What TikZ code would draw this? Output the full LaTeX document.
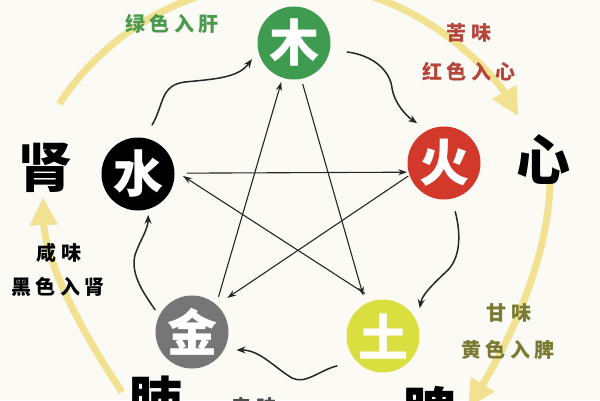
\documentclass[tikz,border=0pt]{standalone}
\usepackage{fontspec}
\newfontfamily\cjk{Noto Sans CJK SC}
\usetikzlibrary{arrows.meta,calc}
\definecolor{bgc}{HTML}{FBFAF5}
\definecolor{wood}{HTML}{3F9B4F}
\definecolor{woodtxt}{HTML}{4A9A4E}
\definecolor{fire}{HTML}{D2392B}
\definecolor{firetxt}{HTML}{B5443A}
\definecolor{metal}{HTML}{767676}
\definecolor{earth}{HTML}{D9DF3E}
\definecolor{earthtxt}{HTML}{7A7A35}
\definecolor{arc}{HTML}{F1E190}
\begin{document}
\begin{tikzpicture}[x=1pt,y=1pt,
  elem/.style={circle, minimum size=73pt, inner sep=0pt, text=white,
    font=\cjk\bfseries\fontsize{50}{50}\selectfont},
  organ/.style={inner sep=0pt, font=\cjk\bfseries\fontsize{54}{54}\selectfont},
  taste/.style={inner sep=0pt, xshift=2pt,
    font=\cjk\bfseries\fontsize{20}{20}\selectfont\addfontfeature{LetterSpace=22}},
  bigarrow/.style={draw=arc, line width=7pt, -{Triangle[length=28pt,width=26pt]}},
  starline/.style={draw=black!85, line width=1.1pt, -{Stealth[length=9pt,width=6pt]}},
  wiggle/.style={draw=black!85, line width=1.5pt, line cap=round, -{Stealth[length=9pt,width=7pt]}}]
\path[use as bounding box] (0,0) rectangle (600,400);
\clip (0,0) rectangle (600,400);
\fill[bgc] (0,0) rectangle (600,400);

% generating-cycle yellow arcs
\coordinate (arcc) at (285,148);
\draw[bigarrow] ($(arcc)+(146.7:270)$) arc[start angle=146.7, end angle=30.2, radius=270];
\coordinate (rs) at (550,217);
\coordinate (re) at (468,-8);
\draw[bigarrow] (rs) .. controls (548,140) and (510,60) .. (re);
\coordinate (ls) at (122,8);
\coordinate (le) at (43,203);
\draw[bigarrow] (ls) .. controls (80,70) and (45,140) .. (le);

% element circles
\node[elem, fill=wood]  (mu)   at (294,357) {木};
\node[elem, fill=fire]  (huo)  at (444,237) {火};
\node[elem, fill=black] (shui) at (138,226) {水};
\node[elem, fill=metal] (jin)  at (192,68)  {金};
\node[elem, fill=earth] (tu)   at (383,64)  {土};

% organs
\node[organ] (shen) at (46,232) {肾};
\node[organ] (xin)  at (543,240) {心};
\node[organ] (fei)  at (155,-1) {肺};
\node[organ] (pi)   at (429,-12) {脾};

% taste labels
\node[taste, text=woodtxt] (l1) at (170,376) {绿色入肝};
\node[taste, text=firetxt] (l2) at (467,367) {苦味};
\node[taste, text=firetxt] (l3) at (467,328) {红色入心};
\node[taste, text=black]   (l4) at (57,147) {咸味};
\node[taste, text=black]   (l5) at (56,113) {黑色入肾};
\node[taste, text=earthtxt] (l6) at (507,87) {甘味};
\node[taste, text=earthtxt] (l7) at (506,50) {黄色入脾};
\node[taste, text=black!70] (l8) at (252,-7) {辛味};

% controlling cycle (star)
\draw[starline] ($(shui)+(1:49)$) -- ($(huo)+(194:38)$);
\draw[starline] ($(huo)+(200:38)$) -- ($(jin)+(44:49)$);
\draw[starline] ($(tu)+(113:46)$) -- ($(shui)+(-2.5:45)$);
\draw[starline] ($(mu)+(-78:42)$) -- ($(tu)+(116:45)$);
\draw[starline] ($(jin)+(53:44)$) -- ($(mu)+(252:41)$);

% generating cycle (wiggly arrows)
\draw[wiggle] ($(shui)+(74:51)$) .. controls (164,295) and (160,315) .. (185,318)
  .. controls (215,321) and (238,322) .. ($(mu)+(201:45)$);
\draw[wiggle] ($(mu)+(-9.6:54)$) .. controls (372,345) and (390,330) .. (392,312)
  .. controls (394,298) and (405,285) .. ($(huo)+(124:48)$);
\draw[wiggle] ($(huo)+(-77:50)$) .. controls (460,170) and (462,145) .. (448,130)
  .. controls (432,115) and (422,105) .. ($(tu)+(37:46)$);
\draw[wiggle] ($(tu)+(213:55)$) .. controls (320,30) and (305,15) .. (292,22)
  .. controls (275,32) and (260,50) .. ($(jin)+(-22:48)$);
\draw[wiggle] ($(jin)+(149:43)$) .. controls (145,105) and (130,125) .. (135,145)
  .. controls (140,160) and (148,170) .. ($(shui)+(-76:42)$);
\end{tikzpicture}
\end{document}
